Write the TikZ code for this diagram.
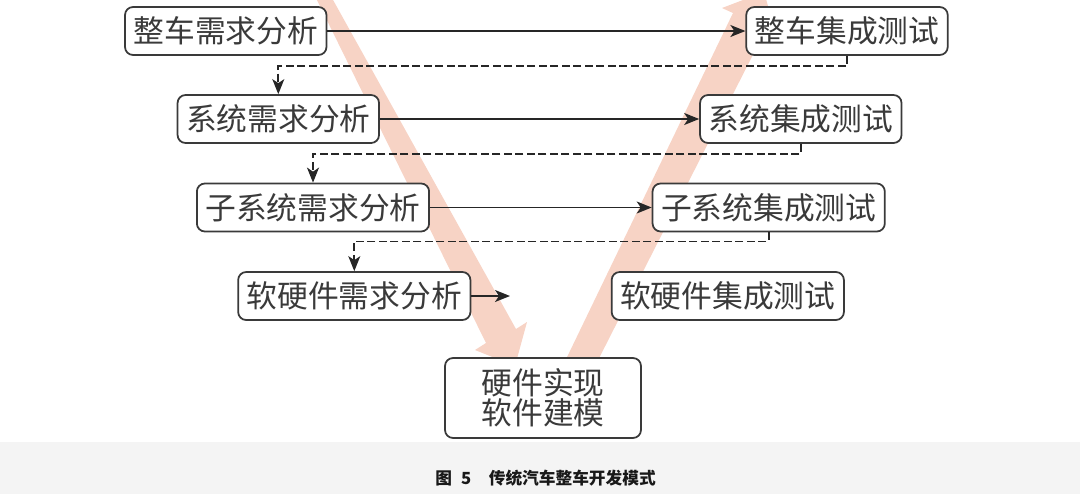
\documentclass[tikz,border=0pt]{standalone}
\usepackage{fontspec}
\setmainfont{Noto Sans CJK SC}
\usetikzlibrary{arrows.meta}
\definecolor{vpink}{RGB}{247,211,197}
\definecolor{capgray}{RGB}{244,244,244}
\definecolor{boxline}{RGB}{58,58,58}
\begin{document}
\begin{tikzpicture}[x=0.02cm,y=-0.02cm,
  stage/.style={draw=boxline,line width=1pt,rounded corners=0.16cm,fill=white,text=boxline,
    font=\fontsize{17.5pt}{21pt}\selectfont,inner xsep=0.17cm,minimum height=0.96cm},
  flow/.style={line width=0.95pt,draw=black!85,-{Stealth[length=0.3cm,width=0.24cm,inset=0.08cm]}},
  back/.style={flow,dash pattern=on 0.16cm off 0.07cm}]
\useasboundingbox (0,0) rectangle (1080,494);
\fill[capgray] (0,442) rectangle (1080,494);

% the V behind everything
\begin{scope}
\clip (0,0) rectangle (1080,442);
\fill[vpink] (312,-10) -- (486,343) -- (475,350) -- (515,366) -- (527,322) -- (516,329) -- (327.5,-10) -- cycle;
\fill[vpink] (556,380) -- (733,13) -- (722,8) -- (764,-8) -- (776,34) -- (766,29) -- (588,380) -- cycle;
\end{scope}

% left side
\node[stage] (req1) at (225.75,31) {整车需求分析};
\node[stage] (req2) at (278.3,119) {系统需求分析};
\node[stage] (req3) at (313,207.5) {子系统需求分析};
\node[stage] (req4) at (354.3,296) {软硬件需求分析};

% right side
\node[stage] (test1) at (847,31) {整车集成测试};
\node[stage] (test2) at (800.8,119) {系统集成测试};
\node[stage] (test3) at (768.7,207.5) {子系统集成测试};
\node[stage] (test4) at (727.8,296) {软硬件集成测试};

% bottom
\node[stage,align=center,minimum width=3.92cm,minimum height=1.6cm,
  font=\fontsize{17.5pt}{15.5pt}\selectfont] (impl) at (543,398) {硬件实现\\软件建模};
\coordinate (gap) at (510,296);

\draw[flow] (req1) -- (test1);
\draw[flow] (req2) -- (test2);
\draw[flow] (req3) -- (test3);
\draw[flow] (req4.east) -- (gap);

\draw[back] (test1.south) -- ++(0,10) -| (req2.north);
\draw[back] (test2.south) -- ++(0,10) -| (req3.north);
\draw[back] (test3.south) -- ++(0,9) -| (req4.north);

\node[font=\bfseries\fontsize{9.5pt}{11pt}\selectfont,text=black!90] (caption) at (545.5,478)
  {图\hspace{0.55em}5\hspace{1.05em}传统汽车整车开发模式};
\end{tikzpicture}
\end{document}
